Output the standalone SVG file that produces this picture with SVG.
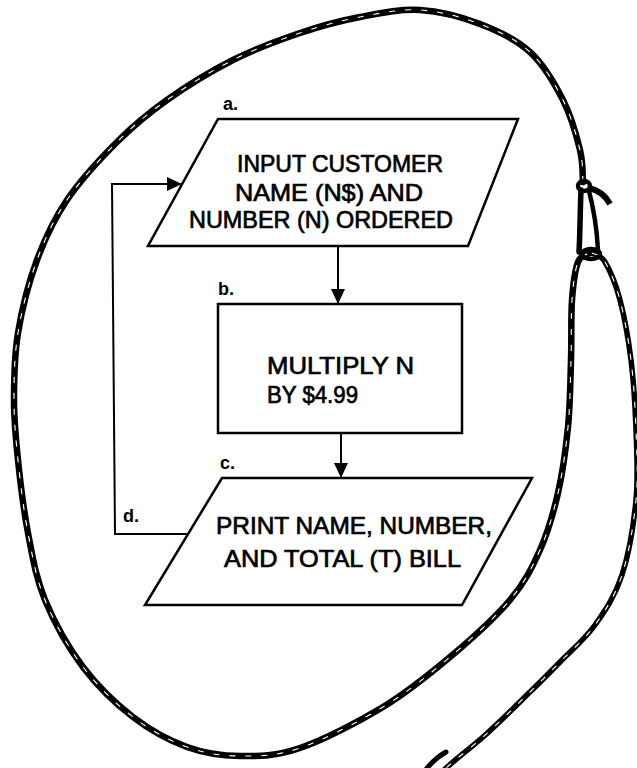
<svg xmlns="http://www.w3.org/2000/svg" xmlns:xlink="http://www.w3.org/1999/xlink" width="637" height="768" viewBox="0 0 637 768">
<style>
.shape{fill:none;stroke:#000;stroke-width:2.5;stroke-linejoin:miter}
.conn{fill:none;stroke:#000;stroke-width:2}
.txt{font-family:"Liberation Sans",Arial,sans-serif;font-size:24px;fill:#000;stroke:#000;stroke-width:0.7}
.lbl{font-family:"Liberation Sans",Arial,sans-serif;font-size:18px;font-weight:bold;fill:#000}
.rope{fill:none;stroke:#000;stroke-width:6.5;stroke-linecap:round;stroke-linejoin:round}
.ropehl{fill:none;stroke:#fff;stroke-width:1.1;stroke-dasharray:6 10;stroke-linecap:butt}
</style>
<defs>
<marker id="arr" markerUnits="userSpaceOnUse" markerWidth="16" markerHeight="16" viewBox="0 0 16 16" refX="15" refY="8" orient="auto">
<path d="M0,1 L15,8 L0,15 Z" fill="#000"/>
</marker>
<path id="loop" d="M583,182 C582.5,176.7 583.3,163.7 580,150 C576.7,136.3 571.3,116.3 563,100 C554.7,83.7 543.8,64.7 530,52 C516.2,39.3 498.3,31 480,24 C461.7,17 440,11.2 420,10 C400,8.8 380,13.2 360,17 C340,20.8 321.2,25.8 300,33 C278.8,40.2 255.2,48.8 233,60 C210.8,71.2 186.3,86.3 167,100 C147.7,113.7 133.7,125.3 117,142 C100.3,158.7 80.3,180.3 67,200 C53.7,219.7 45.2,237.8 37,260 C28.8,282.2 21.8,309.7 18,333 C14.2,356.3 14,378.8 14,400 C14,421.2 15.7,437.8 18,460 C20.3,482.2 23.5,509.7 28,533 C32.5,556.3 35.8,577.7 45,600 C54.2,622.3 68.3,647.5 83,667 C97.7,686.5 115.7,703.7 133,717 C150.3,730.3 169.2,740.5 187,747 C204.8,753.5 221.2,755.8 240,756 C258.8,756.2 276.2,756.2 300,748 C323.8,739.8 358,722.2 383,707 C408,691.8 428.8,674.8 450,657 C471.2,639.2 495,617.8 510,600 C525,582.2 532,567.8 540,550 C548,532.2 553.3,513.5 558,493 C562.7,472.5 565.8,449.2 568,427 C570.2,404.8 570.3,381.2 571,360 C571.7,338.8 570.8,316.3 572,300 C573.2,283.7 575,269.8 578,262 C581,254.2 588,254.5 590,253"/>
<path id="outer" d="M592,253 C594.2,254.5 600.3,254.2 605,262 C609.7,269.8 615.7,283.7 620,300 C624.3,316.3 628.3,338.3 631,360 C633.7,381.7 635.2,406.7 636,430 C636.8,453.3 638.3,475.8 636,500 C633.7,524.2 628.8,554.2 622,575 C615.2,595.8 605.3,610.5 595,625 C584.7,639.5 570.8,650.8 560,662 C549.2,673.2 542.8,679.5 530,692 C517.2,704.5 497.7,724 483,737 C468.3,750 448.8,764.5 442,772"/>
<path id="tail" d="M424,772 C430,764 437,757 446,752"/>
</defs>

<g id="rope">
<use xlink:href="#loop" class="rope"/>
<use xlink:href="#loop" class="ropehl"/>
<use xlink:href="#outer" class="rope" style="stroke-width:5.5"/>
<use xlink:href="#outer" class="ropehl"/>
<use xlink:href="#tail" class="rope" style="stroke-width:5"/>
<path d="M581,190 C580,215 580,235 579,252" class="rope" style="stroke-width:5.5"/>
<path d="M589,191 C594,210 597,232 598,250" class="rope" style="stroke-width:4.5"/>
<ellipse cx="584" cy="186" rx="6" ry="5" fill="none" stroke="#000" stroke-width="4.5"/>
<path d="M589,188 Q603,191 610,204" fill="none" stroke="#000" stroke-width="6"/>
<ellipse cx="591" cy="254" rx="9" ry="5" fill="none" stroke="#000" stroke-width="4.5"/>
</g>

<g id="connectors">
<line class="conn" x1="338" y1="246" x2="338" y2="304" marker-end="url(#arr)"/>
<line class="conn" x1="341" y1="433" x2="341" y2="478" marker-end="url(#arr)"/>
<polyline class="conn" points="188,534 115,534 112,184 182,184" marker-end="url(#arr)"/>
</g>

<g id="node-a">
<polygon class="shape" points="218,119 518,119 468,246 148,246"/>
<text class="lbl" x="223" y="110">a.</text>
<text class="txt" x="237" y="172" textLength="206" lengthAdjust="spacingAndGlyphs">INPUT CUSTOMER</text>
<text class="txt" x="235" y="201" textLength="188" lengthAdjust="spacingAndGlyphs">NAME (N$) AND</text>
<text class="txt" x="189" y="228" textLength="264" lengthAdjust="spacingAndGlyphs">NUMBER (N) ORDERED</text>
</g>

<g id="node-b">
<rect class="shape" x="218" y="304" width="244" height="129"/>
<text class="lbl" x="218" y="295">b.</text>
<text class="txt" x="267" y="374" textLength="147" lengthAdjust="spacingAndGlyphs">MULTIPLY N</text>
<text class="txt" x="267" y="403" textLength="91" lengthAdjust="spacingAndGlyphs">BY $4.99</text>
</g>

<g id="node-c">
<polygon class="shape" points="222,478 532,478 462,605 145,605"/>
<text class="lbl" x="220" y="469">c.</text>
<text class="txt" x="216" y="534" textLength="276" lengthAdjust="spacingAndGlyphs">PRINT NAME, NUMBER,</text>
<text class="txt" x="224" y="567" textLength="237" lengthAdjust="spacingAndGlyphs">AND TOTAL (T) BILL</text>
</g>

<g id="node-d">
<text class="lbl" x="123" y="522">d.</text>
</g>
</svg>
